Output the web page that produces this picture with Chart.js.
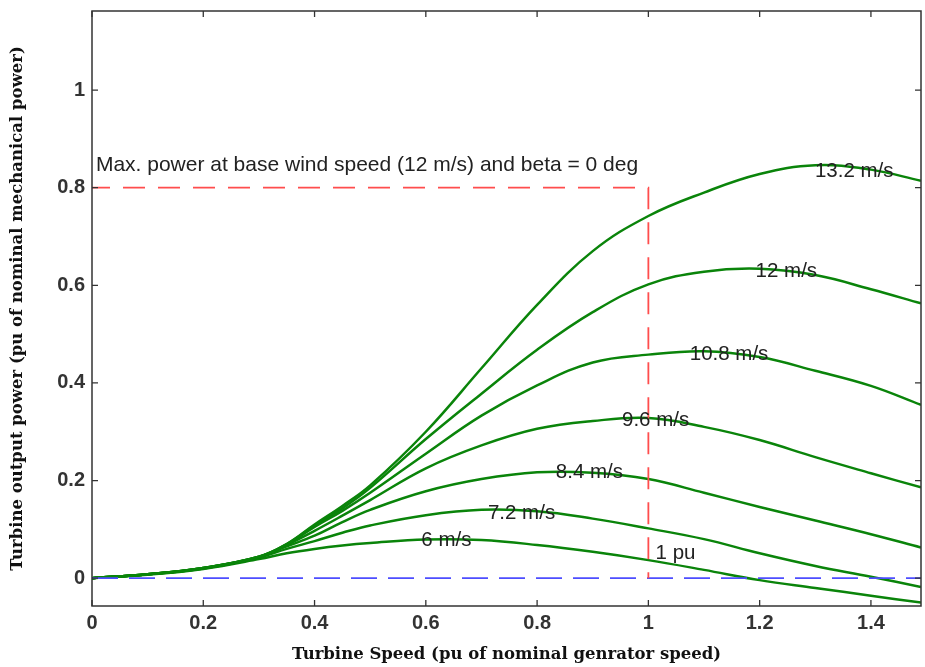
<!DOCTYPE html>
<html><head><meta charset="utf-8">
<script src="https://cdn.jsdelivr.net/npm/chart.js@4/dist/chart.umd.min.js"></script>
<style>html,body{margin:0;padding:0;background:#fff}#wrap{width:925px;height:667px}</style>
</head><body><div id="wrap"><canvas id="c" width="925" height="667"></canvas></div>
<script>
const speeds = [0,0.1,0.2,0.3,0.35,0.4,0.45,0.5,0.6,0.7,0.8,0.9,1.0,1.1,1.2,1.3,1.4,1.49];
const p132 = [0,0.008,0.021,0.044,0.07,0.11,0.148,0.19,0.30,0.43,0.56,0.67,0.742,0.79,0.828,0.846,0.837,0.814];
const p120 = [0,0.008,0.021,0.044,0.07,0.108,0.143,0.185,0.285,0.378,0.468,0.545,0.602,0.628,0.634,0.621,0.592,0.563];
const p108 = [0,0.008,0.021,0.044,0.069,0.105,0.138,0.175,0.255,0.333,0.395,0.442,0.458,0.465,0.453,0.425,0.394,0.355];
const p096 = [0,0.008,0.021,0.043,0.068,0.097,0.128,0.16,0.225,0.272,0.306,0.322,0.328,0.31,0.283,0.248,0.215,0.186];
const p084 = [0,0.008,0.02,0.043,0.065,0.087,0.115,0.14,0.178,0.203,0.217,0.216,0.203,0.175,0.146,0.118,0.09,0.063];
const p072 = [0,0.008,0.02,0.042,0.06,0.076,0.093,0.108,0.129,0.14,0.137,0.122,0.102,0.08,0.051,0.025,0.003,-0.018];
const p060 = [0,0.007,0.019,0.039,0.051,0.06,0.067,0.072,0.079,0.078,0.068,0.054,0.037,0.017,-0.004,-0.02,-0.036,-0.05];
const seriesNames = ['13.2 m/s','12 m/s','10.8 m/s','9.6 m/s','8.4 m/s','7.2 m/s','6 m/s'];
const seriesVals = [p132,p120,p108,p096,p084,p072,p060];
// label anchor points (x, y) in data units
const labelX = [1.37,1.248,1.145,1.013,0.894,0.772,0.637];
const labelY = [0.833,0.629,0.459,0.324,0.216,0.133,0.078];
const xTicks = [0,0.2,0.4,0.6,0.8,1,1.2,1.4];
const yTicks = [0,0.2,0.4,0.6,0.8,1];
const maxLine = {x:[0,1,1], y:[0.8,0.8,0]};
const zeroLine = {x:[0,1.49], y:[0,0]};
const maxText = 'Max. power at base wind speed (12 m/s) and beta = 0 deg';
const puText = '1 pu';

const GREEN = '#0a840a';
const datasets = seriesVals.map((vals,i)=>({
  label: seriesNames[i],
  data: speeds.map((s,k)=>({x:s,y:vals[k]})),
  borderColor: GREEN, borderWidth: 2.5, pointRadius: 0,
  tension: 0.4, fill:false
}));
datasets.unshift({
  label:'zero', data: zeroLine.x.map((x,k)=>({x, y:zeroLine.y[k]})),
  borderColor:'#4d4dff', borderWidth:1.8, borderDash:[26,11], pointRadius:0, tension:0
});
datasets.unshift({
  label:'max', data: maxLine.x.map((x,k)=>({x, y:maxLine.y[k]})),
  borderColor:'#ff4d4d', borderWidth:1.8, borderDash:[22,13], borderDashOffset:4, pointRadius:0, tension:0
});

const decor = {
  id:'decor',
  afterDatasetsDraw(chart){
    const {ctx, chartArea:a, scales:{x, y}} = chart;
    ctx.save();
    ctx.strokeStyle = '#333'; ctx.lineWidth = 1.5;
    ctx.strokeRect(a.left, a.top, a.right-a.left, a.bottom-a.top);
    ctx.lineWidth = 1.3;
    const L = 6;
    xTicks.forEach(v=>{ const px = x.getPixelForValue(v);
      ctx.beginPath(); ctx.moveTo(px,a.bottom); ctx.lineTo(px,a.bottom-L);
      ctx.moveTo(px,a.top); ctx.lineTo(px,a.top+L); ctx.stroke(); });
    yTicks.forEach(v=>{ const py = y.getPixelForValue(v);
      ctx.beginPath(); ctx.moveTo(a.left,py); ctx.lineTo(a.left+L,py);
      ctx.moveTo(a.right,py); ctx.lineTo(a.right-L,py); ctx.stroke(); });
    ctx.fillStyle = '#222';
    ctx.font = '20.5px "Liberation Sans", Arial, sans-serif';
    ctx.textBaseline = 'middle';
    ctx.textAlign = 'center';
    seriesNames.forEach((n,i)=>{
      ctx.fillText(n, x.getPixelForValue(labelX[i]), y.getPixelForValue(labelY[i]));
    });
    ctx.textAlign = 'left';
    ctx.fillText(puText, x.getPixelForValue(1.013), y.getPixelForValue(0.051));
    ctx.font = '21px "Liberation Sans", Arial, sans-serif';
    ctx.fillText(maxText, x.getPixelForValue(0.007), y.getPixelForValue(0.847));
    ctx.restore();
  }
};

const tickFont = {family:'"Liberation Sans", Arial, sans-serif', size:20, weight:'bold'};
const titleFont = {family:'"DejaVu Serif", "Liberation Serif", serif', size:16.5, weight:'bold'};

new Chart(document.getElementById('c'), {
  type:'line',
  data:{datasets},
  options:{
    responsive:false, animation:false, devicePixelRatio:1,
    layout:{padding:{left:0,right:4,top:11,bottom:0}},
    plugins:{legend:{display:false}, tooltip:{enabled:false}},
    scales:{
      x:{type:'linear', min:0, max:1.49,
        afterBuildTicks(s){ s.ticks = xTicks.map(v=>({value:v})); },
        afterFit(s){ s.height = 61; s.paddingLeft = 0; s.paddingRight = 0; },
        grid:{display:false, drawTicks:false},
        border:{display:false},
        ticks:{padding:5, color:'#333', font:tickFont, callback:v=>String(v)},
        title:{display:true, text:'Turbine Speed (pu of nominal genrator speed)', color:'#111',
          font:titleFont, padding:{top:0,bottom:2}}
      },
      y:{type:'linear', min:-0.057, max:1.162,
        afterBuildTicks(s){ s.ticks = yTicks.map(v=>({value:v})); },
        afterFit(s){ s.width = 92; s.paddingTop = 0; s.paddingBottom = 0; },
        grid:{display:false, drawTicks:false},
        border:{display:false},
        ticks:{padding:7, color:'#333', font:tickFont, callback:v=>String(v)},
        title:{display:true, text:'Turbine output power (pu of nominal mechanical power)', color:'#111',
          font:titleFont, padding:{top:8,bottom:0}}
      }
    }
  },
  plugins:[decor]
});
</script></body></html>
